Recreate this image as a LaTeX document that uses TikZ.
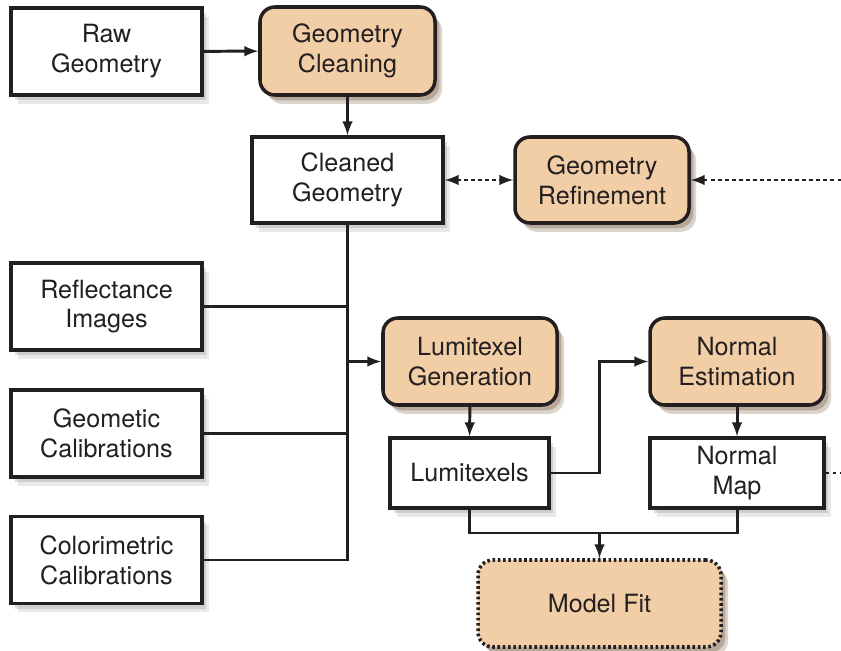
\documentclass[tikz,border=0pt]{standalone}
\usepackage{fontspec}
\setsansfont{TeX Gyre Heros}
\usepackage{tikz}
\usetikzlibrary{shadows}
\tikzset{>=latex}
\definecolor{stagefill}{RGB}{242,206,167}
\definecolor{ink}{RGB}{35,31,32}
\tikzset{
  box/.style={draw=ink,line width=2pt,fill=white,align=center,text=ink,
    font=\sffamily\fontsize{14.3}{17}\selectfont,
    drop shadow={shadow xshift=4pt,shadow yshift=-5pt,opacity=0.12,fill=black!70},
    drop shadow={shadow xshift=2.5pt,shadow yshift=-3pt,opacity=0.18,fill=black!70}},
  stage/.style={box,rounded corners=0.3cm,fill=stagefill,
    drop shadow={shadow xshift=4pt,shadow yshift=-5pt,opacity=0.15,fill=brown!70!black},
    drop shadow={shadow xshift=2.5pt,shadow yshift=-3pt,opacity=0.2,fill=brown!70!black}},
  link/.style={draw=ink,line width=1.7pt},
  dotlink/.style={link,dash pattern=on 2pt off 2pt}
}

\begin{document}
\begin{tikzpicture}[x=0.02cm,y=-0.02cm]
            \draw[draw=none,use as bounding box] (0,0) rectangle (841,651);
            \node[box,minimum width=191*0.02cm,minimum height=87*0.02cm] (raw) at (106.5,51.5) {Raw\\Geometry};
            \node[stage,minimum width=175*0.02cm,minimum height=88*0.02cm] (clean) at (347.5,51) {Geometry\\Cleaning};
            \node[box,minimum width=191*0.02cm,minimum height=86*0.02cm] (cleaned) at (347.5,180) {Cleaned\\Geometry};
            \node[stage,minimum width=174*0.02cm,minimum height=86*0.02cm] (refine) at (602,180) {Geometry\\Refinement};
            \node[box,minimum width=191*0.02cm,minimum height=87*0.02cm] (refl) at (106.5,306.5) {Reflectance\\Images};
            \node[box,minimum width=191*0.02cm,minimum height=87*0.02cm] (geocal) at (106.5,433.5) {Geometic\\Calibrations};
            \node[box,minimum width=191*0.02cm,minimum height=87*0.02cm] (colcal) at (106.5,560) {Colorimetric\\Calibrations};
            \node[stage,minimum width=174*0.02cm,minimum height=87*0.02cm] (lumgen) at (470,361.5) {Lumitexel\\Generation};
            \node[stage,minimum width=174*0.02cm,minimum height=87*0.02cm] (normest) at (737,361.5) {Normal\\Estimation};
            \node[box,minimum width=159*0.02cm,minimum height=70*0.02cm] (lumi) at (469.5,473) {Lumitexels};
            \node[box,minimum width=174*0.02cm,minimum height=70*0.02cm] (nmap) at (737,473) {Normal\\Map};
            \node[stage,dash pattern=on 1.5pt off 1.5pt,minimum width=243*0.02cm,minimum height=87*0.02cm] (fit) at (599.5,603.5) {Model Fit};
            \coordinate (refin) at (841,180);
            \coordinate (mapout) at (841,473);
            \coordinate (trunk) at (347.5,560);
            \coordinate (join) at (599.5,533);
            % geometry path
            \draw[link,->] (raw) -- (clean);
            \draw[link,->] (clean) -- (cleaned);
            \draw[dotlink,<->] (cleaned) -- (refine);
            \draw[dotlink,->] (refin) -- (refine);
            % inputs into lumitexel generation
            \draw[link] (cleaned.south) -- (trunk) -- (colcal.east);
            \draw[link] (refl.east) -- (refl.east -| trunk);
            \draw[link] (geocal.east) -- (geocal.east -| trunk);
            \draw[link,->] (lumgen.west -| trunk) -- (lumgen.west);
            \draw[link,->] (lumgen) -- (lumi);
            \draw[link,->] (lumi.east) -- (join |- lumi.east) |- (normest.west);
            \draw[link,->] (normest) -- (nmap);
            \draw[dotlink] (nmap.east) -- (mapout);
            % into model fit
            \draw[link] (lumi.south) |- (join) -| (nmap.south);
            \draw[link,->] (join) -- (fit.north);
        \end{tikzpicture}
\end{document}
